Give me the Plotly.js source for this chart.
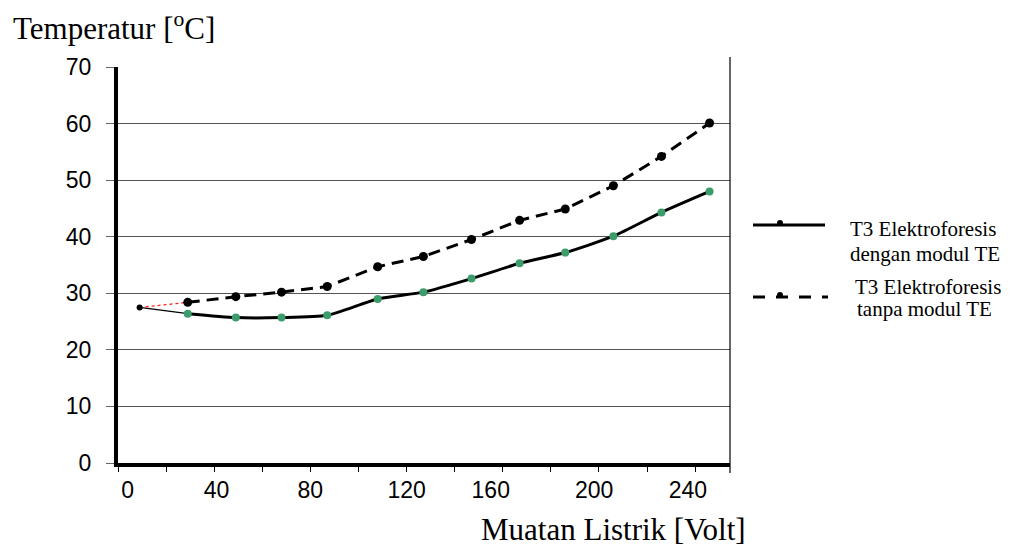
<!DOCTYPE html>
<html>
<head>
<meta charset="utf-8">
<script src="https://cdn.plot.ly/plotly-3.0.1.min.js"></script>
<style>html,body{margin:0;padding:0;background:#fff;}#chart{width:1018px;height:546px;}</style>
</head>
<body>
<div id="chart"></div>
<script>
// ---- data ----
const xVolt = [9, 29, 49, 68, 87, 108, 127, 147, 167, 186, 206, 226, 246];
const tempDengan = [27.5, 26.4, 25.7, 25.7, 26.1, 29.0, 30.2, 32.6, 35.3, 37.2, 40.1, 44.3, 48.0];
const tempTanpa  = [27.5, 28.4, 29.4, 30.2, 31.2, 34.7, 36.5, 39.5, 42.9, 44.9, 49.0, 54.2, 60.1];
const xTickLabels = ['0', '40', '80', '120', '160', '200', '240'];
const xTickPos = [4, 41, 80, 120, 155, 198, 237];
const yTickVals = [0, 10, 20, 30, 40, 50, 60, 70];
const legendNames = [['T3 Elektroforesis', 'dengan modul TE'], ['T3 Elektroforesis', 'tanpa modul TE']];
const yTitle = 'Temperatur [<sup>o</sup>C]';
const xTitle = 'Muatan Listrik [Volt]';

// ---- geometry helpers (pixel -> paper) ----
const W = 1018, H = 546;
const M = {l: 118, r: 288, t: 67, b: 83};
const L = M.l, R = W - M.r, T = M.t, B = H - M.b;
const px = x => (x - L) / (R - L);
const py = y => (B - y) / (B - T);

const serif = 'Liberation Serif, Times New Roman, serif';
const sans = 'Liberation Sans, Arial, sans-serif';

const traces = [
  {x: xVolt.slice(0, 2), y: tempDengan.slice(0, 2), mode: 'lines',
   line: {color: '#000', width: 1.2}, hoverinfo: 'skip'},
  {x: xVolt.slice(0, 2), y: tempTanpa.slice(0, 2), mode: 'lines',
   line: {color: '#ff2020', width: 1.3, dash: 'dot'}, hoverinfo: 'skip'},
  {x: xVolt.slice(1), y: tempDengan.slice(1), mode: 'lines',
   line: {color: '#000', width: 3, shape: 'spline', smoothing: 0.6}},
  {x: xVolt.slice(1), y: tempDengan.slice(1), mode: 'markers',
   marker: {color: '#3c9d6c', size: 8}},
  {x: xVolt.slice(1), y: tempTanpa.slice(1), mode: 'lines+markers',
   line: {color: '#000', width: 3, dash: '12px,7px'},
   marker: {color: '#000', size: 9}},
  {x: xVolt.slice(0, 1), y: tempTanpa.slice(0, 1), mode: 'markers',
   marker: {color: '#000', size: 6}}
];

const ann = (text, x, y, size, xanchor) => ({
  text: text, xref: 'paper', yref: 'paper', x: px(x), y: py(y),
  xanchor: xanchor || 'left', yanchor: 'bottom', showarrow: false,
  font: {family: serif, size: size, color: '#000'}
});

const layout = {
  width: W, height: H,
  margin: M,
  showlegend: false,
  paper_bgcolor: '#fff', plot_bgcolor: '#fff',
  xaxis: {
    range: [0, 254.5], showline: true, linewidth: 4, linecolor: '#000',
    showgrid: false, zeroline: false,
    tickmode: 'array', tickvals: xTickPos, ticktext: xTickLabels,
    ticks: '', ticklabelstandoff: 3,
    tickfont: {family: sans, size: 23, color: '#000'},
    minor: {tickmode: 'linear', tick0: 0, dtick: 20, ticks: 'outside', ticklen: 5,
            tickcolor: '#000', tickwidth: 1, showgrid: false}
  },
  yaxis: {
    range: [0, 70], tickmode: 'array', tickvals: yTickVals,
    showline: true, linewidth: 4, linecolor: '#000',
    showgrid: true, gridcolor: '#555', gridwidth: 1, zeroline: false,
    ticks: 'outside', ticklen: 8, tickcolor: '#666', tickwidth: 1,
    ticklabelstandoff: 10,
    tickfont: {family: sans, size: 23, color: '#000'}
  },
  annotations: [
    ann(yTitle, 10.7, 40 + 7.7, 31, 'left'),
    ann(xTitle, 613, 541 + 7.7, 31, 'center'),
    ann(legendNames[0][0], 848, 237 + 5.5, 21),
    ann(legendNames[0][1], 848, 262 + 5.5, 21),
    ann(legendNames[1][0], 853, 295 + 5.5, 21),
    ann(legendNames[1][1], 855, 317 + 5.5, 21)
  ],
  shapes: [
    {type: 'line', xref: 'paper', yref: 'paper', x0: 1, x1: 1, y0: py(473), y1: py(57),
     line: {color: '#000', width: 1.2}},
    {type: 'line', xref: 'paper', yref: 'paper', x0: px(753), x1: px(825), y0: py(225), y1: py(225),
     line: {color: '#000', width: 3}},
    {type: 'circle', xref: 'paper', yref: 'paper', x0: px(777), x1: px(783), y0: py(220), y1: py(226),
     fillcolor: '#000', line: {color: '#000', width: 0}},
    {type: 'line', xref: 'paper', yref: 'paper', x0: px(753), x1: px(828), y0: py(297), y1: py(297),
     line: {color: '#000', width: 3, dash: '12px,11px'}},
    {type: 'circle', xref: 'paper', yref: 'paper', x0: px(777), x1: px(783), y0: py(292), y1: py(298),
     fillcolor: '#000', line: {color: '#000', width: 0}}
  ]
};

Plotly.newPlot('chart', traces, layout, {displayModeBar: false, staticPlot: true});
</script>
</body>
</html>
